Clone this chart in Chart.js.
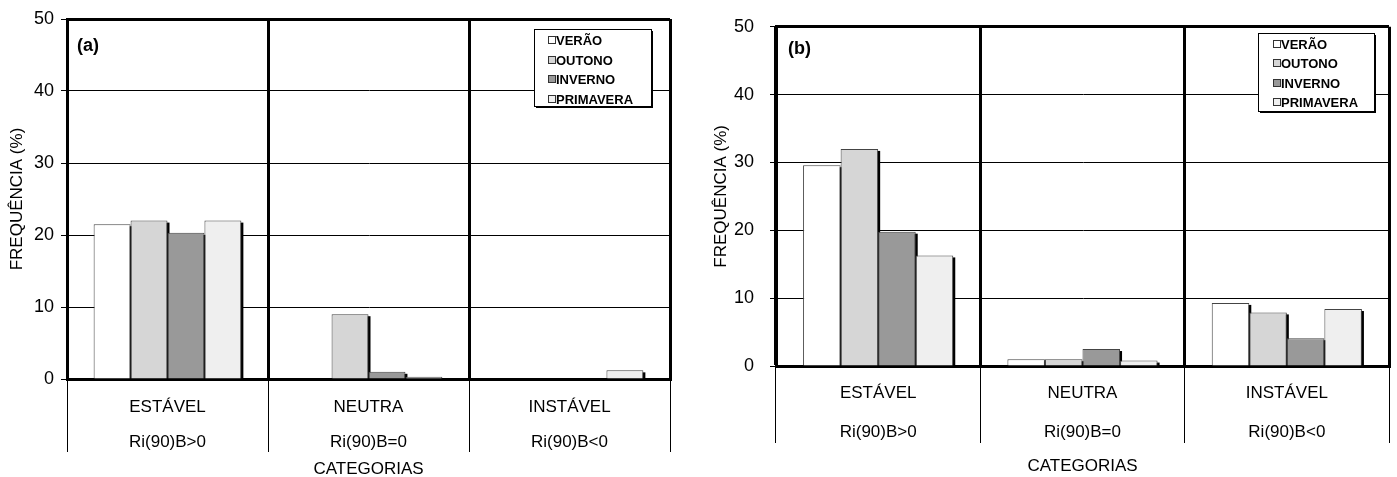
<!DOCTYPE html>
<html>
<head>
<meta charset="utf-8">
<script src="https://cdn.jsdelivr.net/npm/chart.js@4.4.0/dist/chart.umd.min.js"></script>
<style>
  html, body { margin: 0; padding: 0; background: #fff; overflow: hidden; }
  #wrapA { position: absolute; left: 0; top: 0; }
  #wrapB { position: absolute; left: 700px; top: 0; }
</style>
</head>
<body>
<div id="wrapA"><canvas id="chartA" width="690" height="480"></canvas></div>
<div id="wrapB"><canvas id="chartB" width="697" height="480"></canvas></div>
<script>
const categories = [['ESTÁVEL', 'Ri(90)B>0'], ['NEUTRA', 'Ri(90)B=0'], ['INSTÁVEL', 'Ri(90)B<0']];
const seasons = ['VERÃO', 'OUTONO', 'INVERNO', 'PRIMAVERA'];
const seasonColors = ['#ffffff', '#d6d6d6', '#999999', '#efefef'];
const yTicks = [0, 10, 20, 30, 40, 50];

// painel (a)
const veraoA = [21.5, 0, 0];
const outonoA = [22.0, 9.0, 0];
const invernoA = [20.3, 1.0, 0];
const primaveraA = [22.0, 0.3, 1.2];

// painel (b)
const veraoB = [29.6, 1.0, 9.3];
const outonoB = [32.0, 1.0, 7.9];
const invernoB = [19.8, 2.5, 4.1];
const primaveraB = [16.3, 0.8, 8.4];

const FONT = 'Arial, "Liberation Sans", sans-serif';

// sombra preta tipo excel atras das barras
const barShadow = {
  id: 'barShadow',
  beforeDatasetsDraw(chart) {
    const ctx = chart.ctx;
    ctx.save();
    ctx.fillStyle = '#000';
    chart.data.datasets.forEach((ds, i) => {
      chart.getDatasetMeta(i).data.forEach(bar => {
        const p = bar.getProps(['x', 'y', 'base', 'width'], true);
        const h = p.base - p.y;
        if (h < 0.5) return;
        ctx.fillRect(p.x - p.width / 2 + 2, p.y + 2, p.width, h);
      });
    });
    ctx.restore();
  }
};

const boxLegend = {
  id: 'boxLegend',
  afterDraw(chart, args, opts) {
    const {ctx, chartArea} = chart;
    const x = Math.round(chartArea.right - opts.right - opts.width);
    const y = Math.round(chartArea.top + opts.top);
    ctx.save();
    ctx.fillStyle = '#000';
    ctx.fillRect(x + 2, y + 2, opts.width, opts.height);
    ctx.fillStyle = '#fff';
    ctx.fillRect(x, y, opts.width, opts.height);
    ctx.strokeStyle = '#000';
    ctx.lineWidth = 1;
    ctx.strokeRect(x + 0.5, y + 0.5, opts.width, opts.height);
    ctx.font = 'bold 13px ' + FONT;
    ctx.textBaseline = 'middle';
    chart.data.datasets.forEach((ds, i) => {
      const ry = Math.round(y + opts.firstRow + i * opts.rowGap);
      ctx.fillStyle = ds.backgroundColor;
      ctx.fillRect(x + opts.boxX, ry - 4, 7, 7);
      ctx.strokeStyle = '#333';
      ctx.strokeRect(x + opts.boxX + 0.5, ry - 3.5, 7, 7);
      ctx.fillStyle = '#000';
      ctx.fillText(ds.label, x + opts.textX, ry + 1);
    });
    // rotulo do painel
    ctx.font = 'bold 18px ' + FONT;
    ctx.textBaseline = 'middle';
    ctx.fillText(opts.panel, chartArea.left + opts.panelX, chartArea.top + opts.panelY);
    ctx.restore();
  }
};

function makeDatasets(series) {
  return series.map((values, i) => ({
    label: seasons[i],
    data: values,
    backgroundColor: seasonColors[i],
    borderColor: '#444',
    borderWidth: 1,
    categoryPercentage: 0.735,
    barPercentage: 1
  }));
}

function makeChart(id, series, cfg) {
  return new Chart(document.getElementById(id), {
    type: 'bar',
    data: {labels: categories, datasets: makeDatasets(series)},
    options: {
      responsive: false,
      animation: false,
      devicePixelRatio: 1,
      layout: {padding: {left: 0, right: cfg.padRight, top: cfg.padTop, bottom: 0}},
      plugins: {
        legend: {display: false},
        tooltip: {enabled: false},
        boxLegend: cfg.legend
      },
      scales: {
        x: {
          grid: {offset: true, color: '#000', lineWidth: 3, drawTicks: true,
                 tickLength: cfg.tickLength, tickWidth: 1, tickColor: '#000'},
          border: {display: true, color: '#000', width: 3},
          ticks: {color: '#000', font: {family: FONT, size: 17, lineHeight: cfg.lineHeight},
                  padding: cfg.labelPad, maxRotation: 0, autoSkip: false},
          title: {display: true, text: 'CATEGORIAS', color: '#000',
                  font: {family: FONT, size: 17}, padding: {top: 0, bottom: cfg.titleBottom}},
          afterFit(s) { s.height = cfg.xHeight; }
        },
        y: {
          min: 0,
          max: 50,
          afterBuildTicks(s) { s.ticks = yTicks.map(v => ({value: v})); },
          ticks: {color: '#000', font: {family: FONT, size: 18}, padding: cfg.yPad},
          grid: {color: '#000', lineWidth: c => (c.tick && c.tick.value === 50 ? 3 : 1),
                 tickLength: 6, tickWidth: 1, tickColor: '#000'},
          border: {display: true, color: '#000', width: 3},
          title: {display: true, text: 'FREQUÊNCIA (%)', color: '#000',
                  font: {family: FONT, size: 17}, padding: {top: cfg.yTitlePad, bottom: 0}},
          afterFit(s) { s.width = cfg.yWidth; }
        }
      }
    },
    plugins: [barShadow, boxLegend]
  });
}

makeChart('chartA', [veraoA, outonoA, invernoA, primaveraA], {
  padRight: 20, padTop: 19, xHeight: 101, yWidth: 67,
  tickLength: 73, lineHeight: '35px', labelPad: -62, titleBottom: 0,
  yPad: 7, yTitlePad: 7,
  legend: {panel: '(a)', panelX: 10, panelY: 27, right: 19, top: 10, width: 117, height: 77,
           firstRow: 11, rowGap: 19.5, boxX: 14, textX: 22}
});

makeChart('chartB', [veraoB, outonoB, invernoB, primaveraB], {
  padRight: 8, padTop: 26, xHeight: 114, yWidth: 76,
  tickLength: 77, lineHeight: '39px', labelPad: -69, titleBottom: 3,
  yPad: 16, yTitlePad: 11,
  legend: {panel: '(b)', panelX: 12, panelY: 22, right: 15, top: 6, width: 116, height: 78,
           firstRow: 11, rowGap: 19.3, boxX: 15, textX: 23}
});
</script>
</body>
</html>
